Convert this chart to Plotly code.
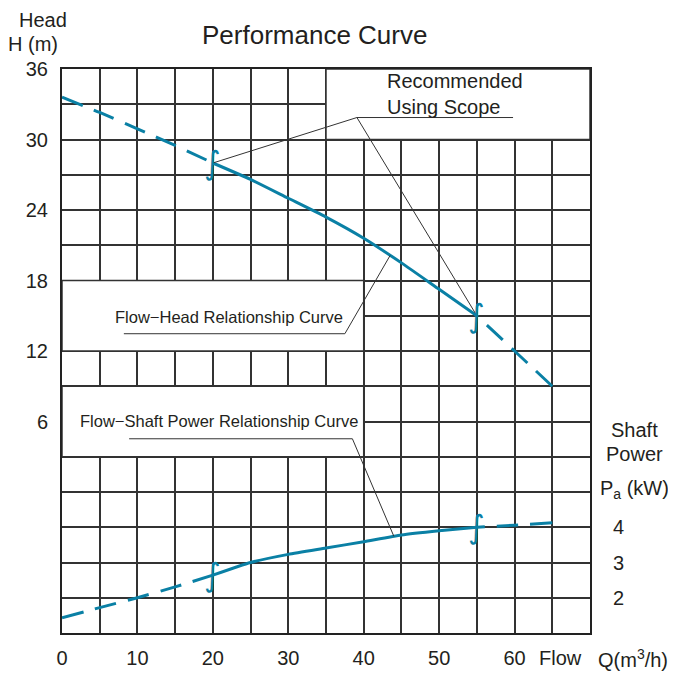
import plotly.graph_objects as go
import numpy as np

# ---------------- data ----------------
flow = [0, 5, 10, 15, 20, 25, 30, 35, 40, 45, 50, 55, 60, 65]
head = [33.6, 32.3, 30.9, 29.5, 28.0, 26.6, 25.0, 23.4, 21.6, 19.5, 17.25, 15.0, 12.0, 9.0]
power = [1.43, 1.72, 2.0, 2.31, 2.64, 3.0, 3.23, 3.41, 3.59, 3.78, 3.9, 4.0, 4.06, 4.13]

scope_q = [20, 55]                      # recommended using scope
flow_ticks = [0, 10, 20, 30, 40, 50, 60]
head_ticks = [6, 12, 18, 24, 30, 36]
power_ticks = [2, 3, 4]

TEAL = "#0a80a5"
INK = "#231f20"
GRID = "#333333"
FONT = "Liberation Sans, Arial, sans-serif"

flow_a = np.array(flow, float)
head_a = np.array(head, float)
power_a = np.array(power, float)
q_lo, q_hi = scope_q


def segment(q, v, lo, hi, reverse=False):
    m = (q >= lo) & (q <= hi)
    xs, ys = q[m], v[m]
    if reverse:
        xs, ys = xs[::-1], ys[::-1]
    return xs, ys


fig = go.Figure()

for arr, yax in ((head_a, "y"), (power_a, "y2")):
    for lo, hi, dash, rev in ((0, q_lo, "22px,12px", False),
                              (q_lo, q_hi, "solid", False),
                              (q_hi, 70, "22px,12px", True)):
        xs, ys = segment(flow_a, arr, lo, hi, rev)
        fig.add_trace(go.Scatter(
            x=xs, y=ys, mode="lines", yaxis=yax,
            line=dict(color=TEAL, width=3, dash=dash, shape="spline", smoothing=0.5),
            showlegend=False, hoverinfo="skip"))


def p_to_h(p):
    # power axis (1..17 kW) shares the plot with head axis (-12..36 m)
    return 3 * p - 15


h_lo = float(np.interp(q_lo, flow_a, head_a))
h_hi = float(np.interp(q_hi, flow_a, head_a))
p_lo = float(np.interp(q_lo, flow_a, power_a))
p_hi = float(np.interp(q_hi, flow_a, power_a))

shapes = []
# white text boxes over the grid
for x0, x1, y0, y1 in ((35, 70, 30, 36), (0, 40, 12, 18), (0, 40, 3, 9)):
    shapes.append(dict(type="rect", x0=x0, x1=x1, y0=y0, y1=y1,
                       fillcolor="white", line=dict(color=GRID, width=1.5), layer="between"))

LEAD = dict(color="#333333", width=1)
# Recommended using scope
ux0, ux1, uy = 39.1, 59.8, 31.87
shapes.append(dict(type="line", x0=ux0, x1=ux1, y0=uy, y1=uy, line=LEAD))
shapes.append(dict(type="line", x0=ux0, x1=q_lo, y0=uy, y1=h_lo, line=LEAD))
shapes.append(dict(type="line", x0=ux0, x1=q_hi, y0=uy, y1=h_hi, line=LEAD))
# Flow-head
fh_q = 43.5
shapes.append(dict(type="line", x0=8.2, x1=37.5, y0=13.47, y1=13.47, line=LEAD))
shapes.append(dict(type="line", x0=37.5, x1=fh_q, y0=13.47,
                   y1=float(np.interp(fh_q, flow_a, head_a)), line=LEAD))
# Flow-shaft power
fp_q = 44
shapes.append(dict(type="line", x0=8.9, x1=38.5, y0=4.53, y1=4.53, line=LEAD))
shapes.append(dict(type="line", x0=38.5, x1=fp_q, y0=4.53,
                   y1=p_to_h(float(np.interp(fp_q, flow_a, power_a))), line=LEAD))
for s in shapes:
    s["xref"] = "x"
    s["yref"] = "y"

ann = []
# scope markers
for q, h in ((q_lo, h_lo), (q_hi, h_hi), (q_lo, p_to_h(p_lo)), (q_hi, p_to_h(p_hi))):
    ann.append(dict(x=q, y=h, xref="x", yref="y", text="∫", showarrow=False,
                    font=dict(family="DejaVu Sans", size=32, color=TEAL),
                    xanchor="center", yanchor="middle"))


def pann(x, y, text, size=20, xanchor="center", yanchor="middle", xref="paper", yref="paper"):
    return dict(x=x, y=y, xref=xref, yref=yref, text=text, showarrow=False,
                xanchor=xanchor, yanchor=yanchor,
                font=dict(family=FONT, size=size, color=INK))


ann += [
    pann(0.479, 1.061, "Performance Curve", 26),
    pann(-0.036, 1.087, "Head"),
    pann(-0.055, 1.045, "H (m)"),
    pann(42.8, 33.9, "Recommended", xanchor="left", yanchor="bottom", xref="x", yref="y"),
    pann(42.8, 33.9, "Using Scope", xanchor="left", yanchor="top", xref="x", yref="y"),
    pann(22.15, 14.9, "Flow−Head Relationship Curve", 16.5, xref="x", yref="y"),
    pann(20.8, 6.06, "Flow−Shaft Power Relationship Curve", 16.5, xref="x", yref="y"),
    pann(1.085, 0.360, "Shaft"),
    pann(1.085, 0.318, "Power"),
    pann(1.085, 0.254, "P<sub>a</sub> (kW)"),
    pann(0.945, -0.0444, "Flow"),
    pann(1.082, -0.0444, "Q(m<sup>3</sup>/h)"),
]

x_vals = list(range(0, 71, 5))
y_vals = list(range(-12, 37, 3))

# the page body adds an 8px margin around the figure
fig.update_layout(
    width=668, height=666,
    margin=dict(l=54, r=86, t=61, b=41, autoexpand=False),
    paper_bgcolor="white", plot_bgcolor="white",
    showlegend=False,
    xaxis=dict(range=[0, 70], tickvals=x_vals, automargin=False,
               ticktext=[str(v) if v in flow_ticks else "" for v in x_vals],
               showgrid=True, gridcolor=GRID, gridwidth=1.5, zeroline=False,
               showline=True, mirror=True, linecolor="#222222", linewidth=2,
               ticks="", ticklabelstandoff=6,
               tickfont=dict(family=FONT, size=20, color=INK)),
    yaxis=dict(range=[-12, 36], tickvals=y_vals, automargin=False,
               ticktext=[str(v) if v in head_ticks else "" for v in y_vals],
               showgrid=True, gridcolor=GRID, gridwidth=1.5, zeroline=False,
               showline=True, mirror=True, linecolor="#222222", linewidth=2,
               ticks="", ticklabelstandoff=8,
               tickfont=dict(family=FONT, size=20, color=INK)),
    yaxis2=dict(range=[1, 17], overlaying="y", side="right", tickvals=power_ticks,
                automargin=False,
                ticktext=[str(v) for v in power_ticks], showgrid=False, zeroline=False,
                showline=False, ticks="", ticklabelstandoff=22,
                tickfont=dict(family=FONT, size=20, color=INK)),
    shapes=shapes,
    annotations=ann,
)

fig.write_html("out.html")
